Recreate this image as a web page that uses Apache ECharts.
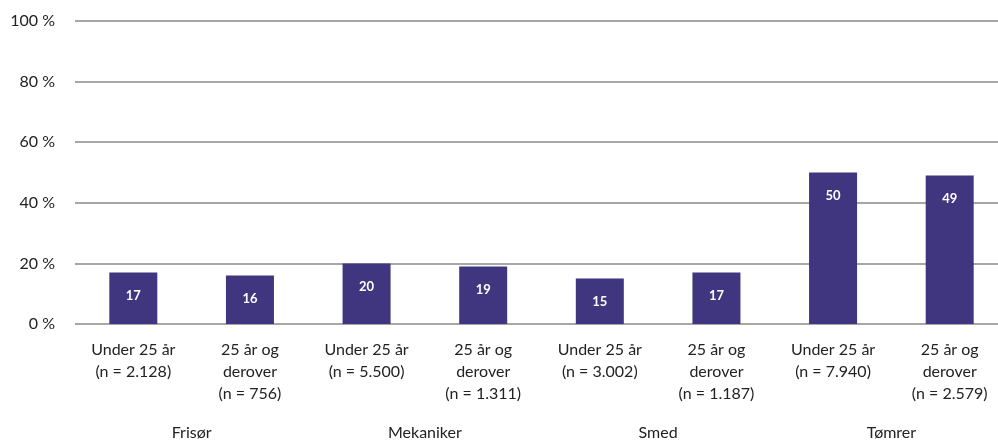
<!DOCTYPE html>
<html>
<head>
<meta charset="utf-8">
<script src="https://cdn.jsdelivr.net/npm/echarts@6/dist/echarts.min.js"></script>
<style>html,body{margin:0;padding:0;background:#fff}#c{width:998px;height:441px}</style>
</head>
<body>
<div id="c"></div>
<script>
const categories = [
  'Under 25 år\n(n = 2.128)', '25 år og\nderover\n(n = 756)',
  'Under 25 år\n(n = 5.500)', '25 år og\nderover\n(n = 1.311)',
  'Under 25 år\n(n = 3.002)', '25 år og\nderover\n(n = 1.187)',
  'Under 25 år\n(n = 7.940)', '25 år og\nderover\n(n = 2.579)'
];
const groups = ['Frisør', 'Mekaniker', 'Smed', 'Tømrer'];
const values = [17, 16, 20, 19, 15, 17, 50, 49];
const yTicks = [0, 20, 40, 60, 80, 100];

const FONT = 'Lato';
const chart = echarts.init(document.getElementById('c'));
chart.setOption({
  animation: false,
  grid: { left: 75, width: 933, top: 21, height: 303, containLabel: false, outerBoundsMode: 'none' },
  xAxis: [
    {
      type: 'category', data: categories,
      axisLine: { show: false }, axisTick: { show: false },
      axisLabel: { interval: 0, color: '#222', fontFamily: FONT, fontSize: 16, lineHeight: 22, margin: 15 }
    },
    {
      type: 'category', data: groups, position: 'bottom', offset: 83,
      axisLine: { show: false }, axisTick: { show: false },
      axisLabel: { interval: 0, color: '#222', fontFamily: FONT, fontSize: 16, lineHeight: 22, margin: 15 }
    }
  ],
  yAxis: {
    type: 'value', min: yTicks[0], max: yTicks[yTicks.length - 1], interval: 20,
    axisLine: { show: false }, axisTick: { show: false },
    axisLabel: { formatter: '{value} %', color: '#222', fontFamily: FONT, fontSize: 16, margin: 20 },
    splitLine: { lineStyle: { color: '#8a8a8a', width: 1.5 } }
  },
  series: [{
    type: 'bar', xAxisIndex: 0, data: values, barWidth: 48,
    itemStyle: { color: '#40357f' },
    label: { show: true, position: 'insideTop', distance: 17, color: '#fff', fontFamily: FONT, fontWeight: 'bold', fontSize: 13 }
  }]
});
</script>
</body>
</html>
